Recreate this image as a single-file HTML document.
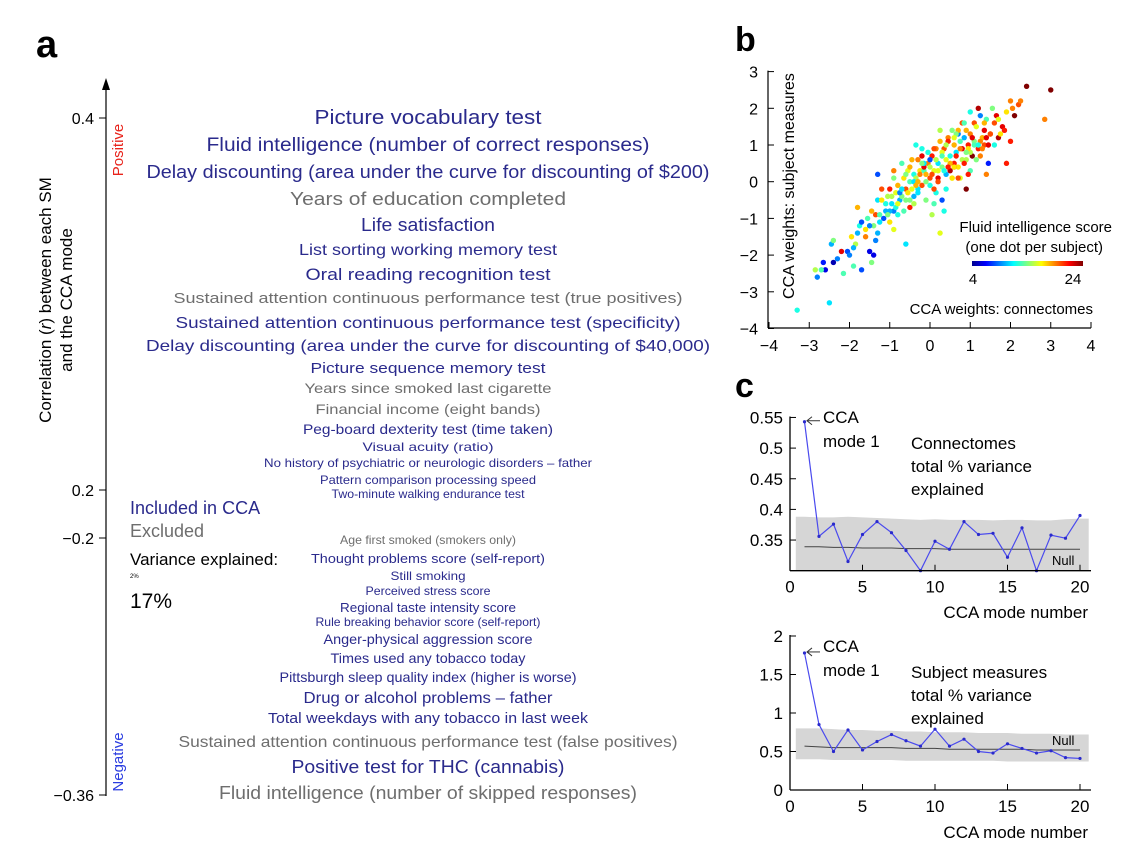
<!DOCTYPE html>
<html><head><meta charset="utf-8"><style>
html,body{margin:0;padding:0;background:#fff;width:1124px;height:864px;overflow:hidden}
svg{font-family:"Liberation Sans",Arial,sans-serif}
</style></head><body>
<svg id="fig" width="1124" height="864" viewBox="0 0 1124 864" xmlns="http://www.w3.org/2000/svg">
<g>
<text x="36" y="57" font-size="38" font-weight="bold">a</text>
<text transform="translate(51,300) rotate(-90)" text-anchor="middle" font-size="17">Correlation (<tspan font-style="italic">r</tspan>) between each SM</text>
<text transform="translate(72,300) rotate(-90)" text-anchor="middle" font-size="17">and the CCA mode</text>
<line x1="106" y1="86" x2="106" y2="796" stroke="#000" stroke-width="1.2"/>
<polygon points="106,78 102,90 110,90" fill="#000"/>
<g font-size="16" text-anchor="end">
<line x1="99" y1="118" x2="106" y2="118" stroke="#000"/><text x="94" y="124">0.4</text>
<line x1="99" y1="490" x2="106" y2="490" stroke="#000"/><text x="94" y="496">0.2</text>
<line x1="99" y1="538" x2="106" y2="538" stroke="#000"/><text x="94" y="544">−0.2</text>
<line x1="99" y1="795" x2="106" y2="795" stroke="#000"/><text x="94" y="801">−0.36</text>
</g>
<text transform="translate(123,150) rotate(-90)" text-anchor="middle" font-size="15" fill="#e8241c">Positive</text>
<text transform="translate(123,762) rotate(-90)" text-anchor="middle" font-size="15" fill="#2b3de0">Negative</text>
<g id="labels" text-anchor="middle"></g>
<g>
<text x="130" y="514" font-size="18" fill="#2a2a8c">Included in CCA</text>
<text x="130" y="537" font-size="18" fill="#6e6e6e">Excluded</text>
<text x="130" y="565" font-size="17" fill="#000">Variance explained:</text>
<text x="130" y="578" font-size="6" fill="#000">2%</text>
<text x="130" y="608" font-size="21" fill="#000">17%</text>
</g>
</g>
<g>
<text x="735" y="51" font-size="34" font-weight="bold">b</text>
<g id="scat"></g>
</g>
<g>
<text x="735" y="397" font-size="34" font-weight="bold">c</text>
<g id="c1"></g><g id="c2"></g>
</g>
</svg>
<script>
const NS="http://www.w3.org/2000/svg";
function mk(tag,attrs,parent,txt){const e=document.createElementNS(NS,tag);for(const k in attrs)e.setAttribute(k,attrs[k]);if(txt!==undefined)e.textContent=txt;parent.appendChild(e);return e;}
const BLUE="#2a2a8c",GREY="#6e6e6e";
// ---- panel a labels
const labelTexts=["Picture vocabulary test","Fluid intelligence (number of correct responses)","Delay discounting (area under the curve for discounting of $200)","Years of education completed","Life satisfaction","List sorting working memory test","Oral reading recognition test","Sustained attention continuous performance test (true positives)","Sustained attention continuous performance test (specificity)","Delay discounting (area under the curve for discounting of $40,000)","Picture sequence memory test","Years since smoked last cigarette","Financial income (eight bands)","Peg-board dexterity test (time taken)","Visual acuity (ratio)","No history of psychiatric or neurologic disorders – father","Pattern comparison processing speed","Two-minute walking endurance test","Age first smoked (smokers only)","Thought problems score (self-report)","Still smoking","Perceived stress score","Regional taste intensity score","Rule breaking behavior score (self-report)","Anger-physical aggression score","Times used any tobacco today","Pittsburgh sleep quality index (higher is worse)","Drug or alcohol problems – father","Total weekdays with any tobacco in last week","Sustained attention continuous performance test (false positives)","Positive test for THC (cannabis)","Fluid intelligence (number of skipped responses)"];
const labelIncluded=[1,1,1,0,1,1,1,0,1,1,1,0,0,1,1,1,1,1,0,1,1,1,1,1,1,1,1,1,1,0,1,0];
const labelY=[124,151,178,205,231,255,280,303,328,351,373,393,414,434,451,467,484,498,544,563,580,595,612,626,644,663,682,703,723,747,773,799];
const labelSize=[20,19,18,18,18,16,17,15,16,16,15,14,14,14,12,12,12,12,12,13,12,12,13,12,14,14,14,16,15,16,18,18];
const labelW=[227,443,563,276,134,258,245,509,505,564,235,247,225,250,131,328,216,193,176,234,75,125,176,225,209,195,297,249,320,499,273,418];
const lg=document.getElementById('labels');
labelTexts.forEach((t,i)=>{const e=mk('text',{x:428,y:labelY[i],'font-size':labelSize[i],fill:labelIncluded[i]?BLUE:GREY,textLength:labelW[i],lengthAdjust:'spacingAndGlyphs'},lg,t);

});
// ---- panel b scatter
const ptX=[-3.3,-2.5,-2.85,-2.8,-2.65,-2.6,-2.45,-2.4,-2.3,-2.15,-2.05,-2.0,-1.95,-1.9,-1.85,-1.8,-1.75,-1.7,-1.6,-1.55,-1.5,-1.45,-1.4,-1.4,-1.35,-1.3,-1.3,-1.25,-1.2,-1.15,-1.1,-1.05,-1.0,-1.0,-0.95,-0.9,-0.9,-0.85,-0.8,-0.8,-0.75,-0.7,-0.7,-0.65,-0.6,-0.6,-0.55,-0.5,-0.5,-0.45,-0.4,-0.4,-0.35,-0.3,-0.3,-0.25,-0.2,-0.2,-0.15,-0.1,-0.1,-0.05,0.0,0.0,0.05,0.1,0.1,0.15,0.2,0.2,0.25,0.3,0.3,0.35,0.4,0.4,0.45,0.5,0.5,0.55,0.6,0.6,0.65,0.7,0.7,0.75,0.8,0.8,0.85,0.9,0.9,0.95,1.0,1.0,1.05,1.1,1.1,1.15,1.2,1.25,1.3,1.35,1.4,1.45,1.5,1.55,1.6,1.7,1.8,1.9,2.0,2.1,2.2,2.4,2.85,3.0,-1.2,-0.6,-0.2,0.3,0.7,1.2,-0.9,-0.3,0.2,0.6,1.0,-1.6,-1.0,0.0,0.45,0.85,1.4,-0.5,0.15,0.55,1.25,-2.2,-1.8,-1.3,0.35,0.9,1.65,0.05,-0.75,-0.15,0.75,1.35,-1.45,0.25,2.25,1.9,-0.35,0.65,
-0.95,-0.7,-0.55,-0.4,-0.25,-0.1,0.05,0.2,0.35,0.5,0.65,0.8,0.95,1.1,1.25,1.4,-1.1,-0.85,-0.6,-0.45,-0.3,-0.15,0.0,0.15,0.3,0.45,0.6,0.75,0.9,1.05,1.2,1.35,1.5,1.7,1.85,2.0,-1.5,-1.25,-1.05,-0.8,-0.65,-0.35,-0.05,0.1,0.4,0.55,0.85,1.15,1.3,1.6,-1.9,-1.7,-2.4,-2.7,-1.35,-0.9,-0.5,0.25,0.7,1.0,1.45,1.75,2.05,0.4,-0.2,-0.7,0.95,0.6,0.1,-0.4];
const ptY=[-3.5,-3.3,-2.4,-2.6,-2.2,-2.4,-1.7,-2.2,-2.1,-2.5,-1.9,-2.0,-1.5,-2.3,-1.7,-1.4,-1.2,-2.4,-1.5,-1.0,-1.9,-0.8,-1.2,-2.0,-0.9,-0.5,-1.4,-0.9,-0.2,-1.0,-0.6,-0.4,-0.2,-1.1,-0.6,0.1,-0.8,-0.3,-0.1,-0.9,-0.5,0.5,-0.4,0.1,-0.2,-1.7,0.3,0.0,-0.7,0.6,0.2,-0.4,0.1,0.6,-0.2,0.3,0.7,-0.1,0.3,0.2,-0.5,0.5,0.4,-0.1,0.7,0.3,-0.6,0.9,0.5,0.1,1.1,0.4,-0.5,0.9,0.6,0.2,1.2,0.7,0.3,1.4,0.5,1.0,0.8,1.3,0.4,1.1,0.9,1.6,1.2,0.6,1.4,1.0,1.3,1.9,0.7,1.6,1.1,1.5,0.9,1.8,1.2,1.4,1.7,0.5,1.3,2.0,1.6,1.2,1.5,1.9,1.1,1.8,2.1,2.6,1.7,2.5,-0.5,0.2,0.9,0.8,1.4,2.0,0.3,-0.3,0.0,0.4,0.8,-1.3,-0.8,0.6,1.1,1.6,0.2,-0.5,-0.3,0.1,0.7,-1.9,-0.7,0.2,-0.8,-0.2,1.8,-0.9,-0.3,0.4,0.1,1.0,-2.2,-1.4,2.2,0.5,1.0,1.3,
-0.4,-0.2,-0.3,0.0,0.2,0.0,0.2,0.3,0.3,0.5,0.7,0.6,0.9,1.0,1.1,1.2,-0.8,-0.7,-0.5,-0.2,0.0,0.5,0.1,0.6,0.7,0.4,0.4,0.9,0.8,1.2,1.0,1.6,1.3,1.7,1.4,2.2,-1.2,-1.1,-0.9,-0.6,-0.8,-0.1,0.8,-0.2,1.0,0.1,0.5,0.6,0.9,1.0,-1.8,-1.1,-1.6,-2.4,-1.6,-1.3,0.4,1.4,0.1,0.3,1.0,1.3,2.0,-0.2,0.5,-0.2,0.2,1.2,0.9,-0.6];
const ptS=[12,11,15,9,7,6,10,5,9,13,8,9,17,13,15,10,12,8,19,13,6,18,14,6,20,11,10,13,20,8,12,15,21,17,11,14,9,16,18,12,10,13,14,17,20,11,16,13,21,18,12,10,15,19,11,17,22,20,13,18,14,19,15,12,21,16,13,19,11,22,18,14,8,20,16,10,19,12,23,14,21,18,11,9,17,13,22,20,10,15,18,21,19,12,24,20,14,16,21,9,18,22,13,7,19,14,20,23,22,17,21,24,20,25,19,25,17,14,12,16,18,23,19,11,20,21,15,17,10,8,21,13,19,14,12,16,19,22,18,8,12,24,22,15,9,22,16,20,14,16,19,21,12,14,
15,13,17,11,19,14,20,16,12,18,21,15,17,13,19,22,10,12,14,16,18,11,20,15,13,21,17,19,14,22,12,18,20,16,21,19,9,11,14,16,13,18,12,20,15,17,21,14,19,12,10,8,14,13,9,16,18,15,20,13,22,17,19,12,14,11,21,16,20,15];
const sx=v=>930+v*40.25, sy=v=>181.7-v*36.7;
function jet(s){let t=Math.max(0,Math.min(1,(s-4)/20));const c=x=>Math.round(255*Math.max(0,Math.min(1,1.5-Math.abs(4*t-x))));return `rgb(${c(3)},${c(2)},${c(1)})`;}
const sc=document.getElementById('scat');
const dots=mk('g',{},sc);
ptX.forEach((x,i)=>{const c=mk('circle',{cx:sx(x),cy:sy(ptY[i]),r:2.7,fill:jet(ptS[i])},dots);

});
const bTicks=[-4,-3,-2,-1,0,1,2,3,4], bYTicks=[-4,-3,-2,-1,0,1,2,3];
const ax=mk('g',{},sc);
mk('line',{x1:768,y1:328,x2:1091,y2:328,stroke:'#000','stroke-width':1.2},ax);
mk('line',{x1:768,y1:sy(3)-1,x2:768,y2:328,stroke:'#000','stroke-width':1.2},ax);
bTicks.forEach(v=>{mk('line',{x1:sx(v),y1:328,x2:sx(v),y2:322,stroke:'#000'},ax);mk('text',{x:sx(v),y:351,'text-anchor':'middle','font-size':16},ax,v<0?'−'+(-v):''+v);});
bYTicks.forEach(v=>{mk('line',{x1:768,y1:sy(v),x2:774,y2:sy(v),stroke:'#000'},ax);mk('text',{x:758,y:sy(v)+6,'text-anchor':'end','font-size':16},ax,v<0?'−'+(-v):''+v);});
mk('text',{transform:'translate(794,186) rotate(-90)','text-anchor':'middle','font-size':16},ax,'CCA weights: subject measures');
mk('text',{x:1093,y:314,'text-anchor':'end','font-size':15},ax,'CCA weights: connectomes');
mk('text',{x:1112,y:232,'text-anchor':'end','font-size':15},ax,'Fluid intelligence score');
mk('text',{x:1103,y:252,'text-anchor':'end','font-size':15},ax,'(one dot per subject)');
const defs=mk('defs',{},sc);const gr=mk('linearGradient',{id:'jetg'},defs);
[0,0.125,0.375,0.625,0.875,1].forEach((o,i)=>mk('stop',{offset:o,'stop-color':['#00008f','#0000ff','#00ffff','#ffff00','#ff0000','#800000'][i]},gr));
const cb=mk('rect',{x:972,y:261,width:111,height:5,fill:'url(#jetg)'},sc);
mk('text',{x:973,y:284,'text-anchor':'middle','font-size':15},sc,'4');
mk('text',{x:1073,y:284,'text-anchor':'middle','font-size':15},sc,'24');
// ---- panel c
const modes=[1,2,3,4,5,6,7,8,9,10,11,12,13,14,15,16,17,18,19,20];
const connVals=[0.543,0.356,0.376,0.315,0.359,0.380,0.362,0.333,0.300,0.348,0.335,0.380,0.359,0.361,0.322,0.370,0.300,0.358,0.353,0.390];
const connNull=[0.339,0.339,0.338,0.338,0.337,0.337,0.337,0.336,0.336,0.336,0.335,0.335,0.335,0.335,0.335,0.335,0.335,0.335,0.335,0.335];
const connHi=[0.388,0.387,0.387,0.388,0.387,0.386,0.385,0.384,0.383,0.384,0.383,0.383,0.383,0.382,0.383,0.383,0.382,0.382,0.384,0.385];
const connLo=[0.30,0.30,0.30,0.30,0.30,0.30,0.30,0.30,0.30,0.30,0.30,0.30,0.30,0.30,0.30,0.30,0.30,0.30,0.30,0.30];
const connTicks=[0.35,0.4,0.45,0.5,0.55];
const subjVals=[1.78,0.85,0.50,0.78,0.52,0.63,0.72,0.64,0.57,0.79,0.57,0.66,0.50,0.48,0.60,0.54,0.48,0.51,0.42,0.41];
const subjNull=[0.57,0.56,0.55,0.55,0.55,0.55,0.55,0.54,0.54,0.54,0.53,0.53,0.53,0.53,0.53,0.53,0.52,0.52,0.52,0.52];
const subjHi=[0.80,0.80,0.79,0.78,0.78,0.77,0.77,0.76,0.76,0.75,0.75,0.75,0.74,0.74,0.74,0.73,0.73,0.73,0.72,0.72];
const subjLo=[0.40,0.40,0.39,0.39,0.39,0.39,0.39,0.38,0.38,0.38,0.38,0.38,0.38,0.38,0.37,0.37,0.37,0.37,0.37,0.37];
const subjTicks=[0,0.5,1,1.5,2];
const xTicks=[0,5,10,15,20];
function panelC(id,vals,nul,hi,lo,ticks,y0v,yBase,ppu,annY,title,nullY,xlabY,fmt){
 const g=document.getElementById(id);
 
 
 const X=v=>790+v*14.5, Y=v=>yBase-(v-y0v)*ppu;
 let d='M'+X(modes[0]-0.6)+','+Y(hi[0]);modes.forEach((m,i)=>d+=' L'+X(m)+','+Y(hi[i]));d+=' L'+X(20.6)+','+Y(hi[19]);
 d+=' L'+X(20.6)+','+Y(lo[19]);for(let i=19;i>=0;i--)d+=' L'+X(modes[i])+','+Y(lo[i]);d+=' L'+X(0.4)+','+Y(lo[0])+'Z';
 const band=mk('path',{d:d,fill:'#d6d6d6'},g);
 const nl=mk('polyline',{points:modes.map((m,i)=>X(m)+','+Y(nul[i])).join(' '),fill:'none',stroke:'#444','stroke-width':1},g);
 
 const ln=mk('polyline',{points:modes.map((m,i)=>X(m)+','+Y(vals[i])).join(' '),fill:'none',stroke:'#4a4aee','stroke-width':1.2},g);
 
 modes.forEach((m,i)=>{const p=mk('circle',{cx:X(m),cy:Y(vals[i]),r:1.6,fill:'#2a2acc'},g);
 
 });
 mk('line',{x1:790,y1:yBase,x2:1091,y2:yBase,stroke:'#000','stroke-width':1.3},g);
 mk('line',{x1:790,y1:Y(ticks[ticks.length-1])-1,x2:790,y2:yBase,stroke:'#000','stroke-width':1.3},g);
 ticks.forEach(v=>{mk('line',{x1:790,y1:Y(v),x2:796,y2:Y(v),stroke:'#000'},g);mk('text',{x:783,y:Y(v)+6,'text-anchor':'end','font-size':17},g,fmt(v));});
 xTicks.forEach(v=>{mk('line',{x1:X(v),y1:yBase,x2:X(v),y2:yBase-6,stroke:'#000'},g);mk('text',{x:X(v),y:yBase+22,'text-anchor':'middle','font-size':17},g,''+v);});
 mk('text',{x:1088,y:xlabY,'text-anchor':'end','font-size':17},g,'CCA mode number');
 mk('text',{x:823,y:annY,'font-size':17},g,'CCA');mk('text',{x:823,y:annY+24,'font-size':17},g,'mode 1');
 mk('line',{x1:820,y1:Y(vals[0])-1,x2:807,y2:Y(vals[0])-1,stroke:'#333'},g);
 mk('polyline',{points:`812,${Y(vals[0])-5} 807,${Y(vals[0])-1} 812,${Y(vals[0])+3}`,fill:'none',stroke:'#333'},g);
 title.forEach((t,i)=>mk('text',{x:911,y:annY+26+i*23,'font-size':17},g,t));
 mk('text',{x:1052,y:nullY,'font-size':13},g,'Null');
}
panelC('c1',connVals,connNull,connHi,connLo,connTicks,0.30,570.7,613,423,['Connectomes','total % variance','explained'],565,618,v=>''+v);
panelC('c2',subjVals,subjNull,subjHi,subjLo,subjTicks,0,790,77,652,['Subject measures','total % variance','explained'],745,838,v=>''+v);
</script>
</body></html>
